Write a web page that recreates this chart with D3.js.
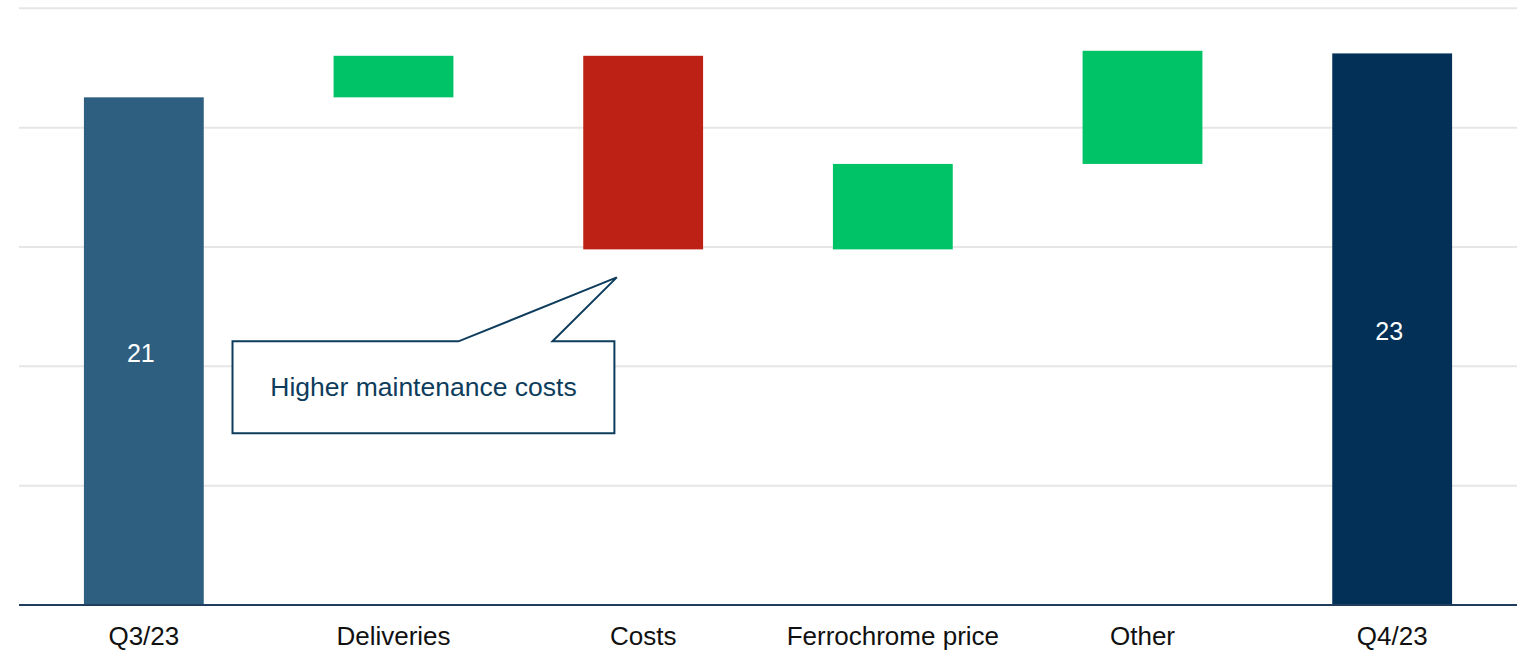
<!DOCTYPE html>
<html>
<head>
<meta charset="utf-8">
<script src="https://cdn.jsdelivr.net/npm/d3@7"></script>
<style>
  body { margin: 0; background: #fff; }
  text { font-family: "Liberation Sans", Arial, sans-serif; }
</style>
</head>
<body>
<svg id="chart" width="1521" height="650"></svg>
<script>
// waterfall data
const categories = ["Q3/23", "Deliveries", "Costs", "Ferrochrome price", "Other", "Q4/23"];
const kinds = ["start", "delta", "delta", "delta", "delta", "end"];
const values = [21.27, 1.74, -8.11, 3.58, 4.74, 23.11];
const barLabels = ["21", "", "", "", "", "23"];
const yTicks = [0, 5, 10, 15, 20, 25];
const note = "Higher maintenance costs";

const colors = { start: "#2f5f80", end: "#023056", up: "#00c367", down: "#bd2015" };

const svg = d3.select("#chart");
const plotLeft = 19, plotRight = 1517, plotTop = 8.3, plotBottom = 605;

// build the running totals
let run = 0;
const bars = categories.map((c, i) => {
  let y0, y1, color;
  if (kinds[i] === "start") { y0 = 0; y1 = values[i]; run = values[i]; color = colors.start; }
  else if (kinds[i] === "end") { y0 = 0; y1 = values[i]; color = colors.end; }
  else {
    y0 = run; y1 = run + values[i]; run = y1;
    color = values[i] >= 0 ? colors.up : colors.down;
  }
  return { cat: c, lo: Math.min(y0, y1), hi: Math.max(y0, y1), color, label: barLabels[i] };
});

const x = d3.scaleBand()
  .domain(categories)
  .range([plotLeft, plotRight])
  .paddingInner(0.52)
  .paddingOuter(0.26);

const y = d3.scaleLinear()
  .domain([0, 25])
  .range([plotBottom, plotTop]);

// gridlines
svg.append("g")
  .selectAll("line")
  .data(yTicks.filter(t => t > 0))
  .join("line")
  .attr("x1", plotLeft)
  .attr("x2", plotRight)
  .attr("y1", d => y(d))
  .attr("y2", d => y(d))
  .attr("stroke", "#e6e6e6")
  .attr("stroke-width", 2);

// bars
svg.append("g")
  .selectAll("rect")
  .data(bars)
  .join("rect")
  .attr("x", d => x(d.cat))
  .attr("width", x.bandwidth())
  .attr("y", d => y(d.hi))
  .attr("height", d => y(d.lo) - y(d.hi))
  .attr("fill", d => d.color);

// value labels inside total bars
svg.append("g")
  .selectAll("text")
  .data(bars.filter(d => d.label))
  .join("text")
  .attr("x", d => x(d.cat) + x.bandwidth() / 2 - 3)
  .attr("y", d => (y(d.lo) + y(d.hi)) / 2 + 11)
  .attr("text-anchor", "middle")
  .attr("fill", "#fff")
  .attr("font-size", 25)
  .text(d => d.label);

// x axis
const xAxis = svg.append("g")
  .attr("transform", `translate(0,${plotBottom})`)
  .call(d3.axisBottom(x).tickSize(0).tickPadding(22));
xAxis.select(".domain")
  .attr("stroke", "#1f3d5c")
  .attr("stroke-width", 2)
  .attr("d", `M${plotLeft},0H${plotRight}`);
xAxis.selectAll("text")
  .attr("font-size", 26)
  .attr("fill", "#111")
  .attr("font-family", "Liberation Sans, Arial, sans-serif");

// callout for the costs bar
const costs = bars[2];
const tipX = x("Costs") + x.bandwidth() * 0.28;
const tipY = y(costs.lo) + 28;
const bx0 = x("Q3/23") + x.bandwidth() * 1.24, bx1 = x("Costs") + x.bandwidth() * 0.26;
const by0 = tipY + 64, by1 = tipY + 156;
const j0 = bx0 + 226, j1 = bx0 + 320;

svg.append("path")
  .attr("d", `M${bx0},${by0}H${j0}L${tipX},${tipY}L${j1},${by0}H${bx1}V${by1}H${bx0}Z`)
  .attr("fill", "#fff")
  .attr("stroke", "#0d3c5c")
  .attr("stroke-width", 2);

svg.append("text")
  .attr("x", (bx0 + bx1) / 2)
  .attr("y", by0 + 55)
  .attr("text-anchor", "middle")
  .attr("fill", "#0d3c5c")
  .attr("font-size", 26.5)
  .text(note);
</script>
</body>
</html>
